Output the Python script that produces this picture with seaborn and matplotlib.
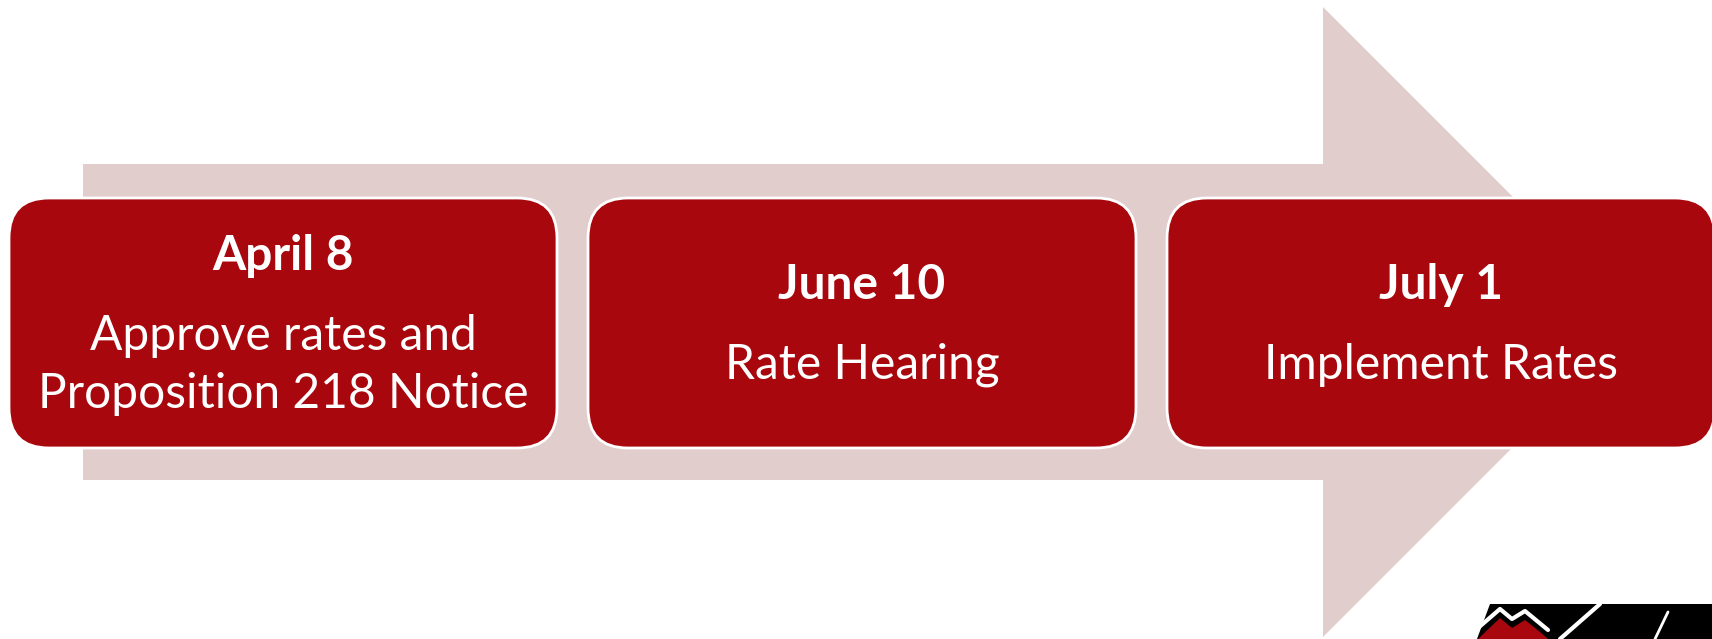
import matplotlib
matplotlib.use("Agg")
import matplotlib.pyplot as plt
from matplotlib.patches import FancyBboxPatch, Polygon
import seaborn as sns

# timeline steps
dates = ["April 8", "June 10", "July 1"]
descriptions = [["Approve rates and", "Proposition 218 Notice"],
                ["Rate Hearing"],
                ["Implement Rates"]]

box_color = "#A8070D"
arrow_color = "#E2CDCD"

sns.set_theme(style="white")
plt.rcParams['font.family'] = ['Lato', 'DejaVu Sans']

W, H = 1712, 639
fig = plt.figure(figsize=(W / 100, H / 100), dpi=100)
ax = fig.add_axes([0, 0, 1, 1])
ax.set_xlim(0, W)
ax.set_ylim(H, 0)
ax.axis("off")

# big background arrow
mid = 322
shaft_top, shaft_bot = 164, 480
head_x, head_top = 1323, 7
tip_x = head_x + (mid - head_top)
arrow = Polygon([(83, shaft_top), (head_x, shaft_top), (head_x, head_top),
                 (tip_x, mid), (head_x, 2 * mid - head_top),
                 (head_x, shaft_bot), (83, shaft_bot)],
                closed=True, facecolor=arrow_color, edgecolor="none", zorder=1)
ax.add_patch(arrow)

# step boxes
box_w, box_h, step = 548, 250, 579
x0, y0 = 9, 198
rad = 40
for i, (d, desc) in enumerate(zip(dates, descriptions)):
    left = x0 + i * step
    box = FancyBboxPatch((left + rad, y0 + rad), box_w - 2 * rad, box_h - 2 * rad,
                         boxstyle=f"round,pad={rad}", facecolor=box_color,
                         edgecolor="white", linewidth=2, zorder=2)
    ax.add_patch(box)
    cx = left + box_w / 2
    last = 80 + 58 * (len(desc) - 1)
    ty = mid + 3 - last / 2
    ax.text(cx, ty, d, color="white", fontsize=34.5, fontweight="bold",
            ha="center", va="center", zorder=3)
    for k, line in enumerate(desc):
        ax.text(cx, ty + 80 + 58 * k, line, color="white", fontsize=34.5,
                ha="center", va="center", zorder=3)

# partial logo in the corner
ax.add_patch(Polygon([(1490, 604), (1712, 604), (1712, 639), (1477, 639)],
                     closed=True, facecolor="black", edgecolor="none", zorder=4))
ax.add_patch(Polygon([(1478, 639), (1500, 618), (1512, 628), (1525, 620),
                      (1540, 632), (1548, 639)],
                     closed=True, facecolor=box_color, edgecolor="none", zorder=5))
ax.plot([1478, 1500, 1512, 1525, 1548], [628, 609, 619, 611, 630],
        color="white", linewidth=3, zorder=5)
ax.plot([1560, 1600], [639, 604], color="white", linewidth=3, zorder=5)
ax.plot([1655, 1668], [639, 612], color="white", linewidth=2, zorder=5)

fig.savefig("out.png", dpi=100)
